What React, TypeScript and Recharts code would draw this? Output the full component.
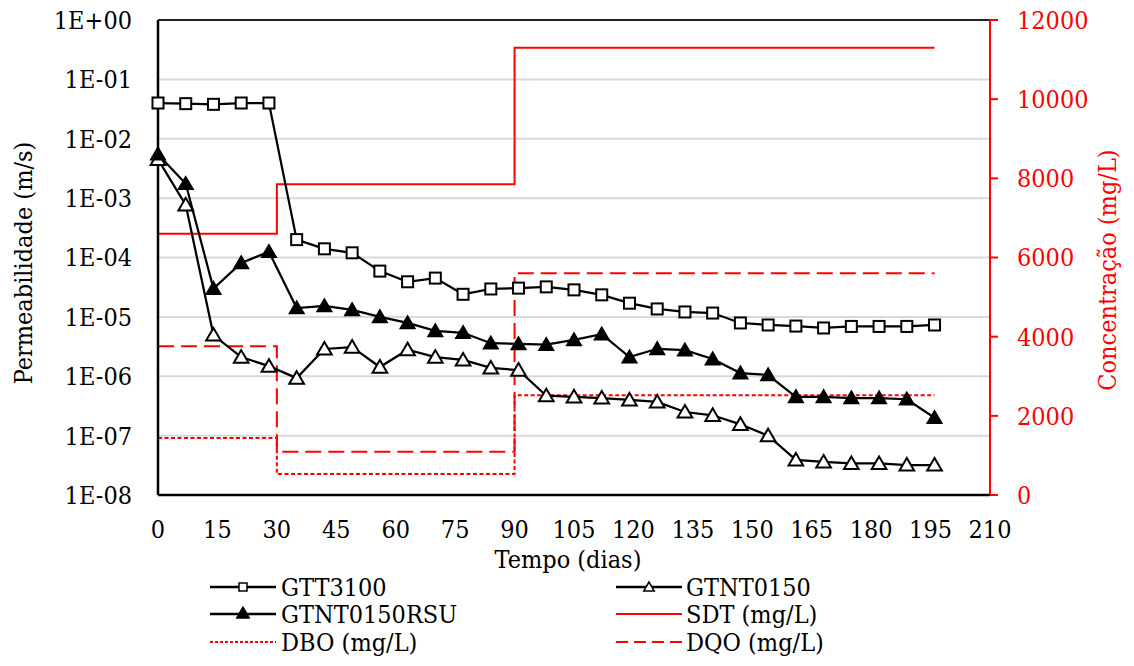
import React from "react";
import {
  ComposedChart,
  Line,
  XAxis,
  YAxis,
  CartesianGrid,
  ReferenceLine,
} from "recharts";

const days = [0, 7, 14, 21, 28, 35, 42, 49, 56, 63, 70, 77, 84, 91, 98, 105, 112, 119, 126, 133, 140, 147, 154, 161, 168, 175, 182, 189, 196];

const gtt3100 = [4.0e-2, 3.9e-2, 3.8e-2, 4.0e-2, 4.0e-2, 2.0e-4, 1.4e-4, 1.2e-4, 5.9e-5, 3.9e-5, 4.5e-5, 2.4e-5, 2.95e-5, 3.05e-5, 3.2e-5, 2.85e-5, 2.35e-5, 1.7e-5, 1.36e-5, 1.21e-5, 1.16e-5, 7.9e-6, 7.3e-6, 7.0e-6, 6.5e-6, 6.9e-6, 6.9e-6, 6.9e-6, 7.3e-6];

const gtnt0150 = [4.5e-3, 7.7e-4, 4.95e-6, 2.1e-6, 1.48e-6, 9.3e-7, 2.88e-6, 3.1e-6, 1.43e-6, 2.8e-6, 2.1e-6, 1.88e-6, 1.38e-6, 1.27e-6, 4.7e-7, 4.5e-7, 4.3e-7, 4.0e-7, 3.7e-7, 2.5e-7, 2.2e-7, 1.55e-7, 1.0e-7, 3.9e-8, 3.6e-8, 3.4e-8, 3.4e-8, 3.2e-8, 3.2e-8];

const gtnt0150rsu = [5.5e-3, 1.75e-3, 3.0e-5, 8.1e-5, 1.25e-4, 1.41e-5, 1.53e-5, 1.31e-5, 1.0e-5, 7.9e-6, 5.8e-6, 5.4e-6, 3.6e-6, 3.5e-6, 3.4e-6, 4.1e-6, 5.1e-6, 2.1e-6, 2.9e-6, 2.75e-6, 1.95e-6, 1.13e-6, 1.05e-6, 4.5e-7, 4.5e-7, 4.3e-7, 4.3e-7, 4.1e-7, 2.0e-7];

const stepDays = [0, 30, 90, 196];
const sdt = [6600, 7850, 11300, 11300];
const dqo = [3760, 1090, 5600, 5600];
const dbo = [1440, 530, 2520, 2520];

const xTicks = [0, 15, 30, 45, 60, 75, 90, 105, 120, 135, 150, 165, 180, 195, 210];
const leftTicks = [1e-8, 1e-7, 1e-6, 1e-5, 1e-4, 1e-3, 1e-2, 1e-1, 1];
const rightTicks = [0, 2000, 4000, 6000, 8000, 10000, 12000];

const permData = days.map((d, i) => ({
  day: d,
  gtt3100: gtt3100[i],
  gtnt0150: gtnt0150[i],
  gtnt0150rsu: gtnt0150rsu[i],
}));
const sdtData = stepDays.map((d, i) => ({ day: d, v: sdt[i] }));
const dqoData = stepDays.map((d, i) => ({ day: d, v: dqo[i] }));
const dboData = stepDays.map((d, i) => ({ day: d, v: dbo[i] }));

const FONT = "'DejaVu Serif Condensed', 'DejaVu Serif', serif";
const FS = 25;
const RED = "#FF0000";
const textStyle = { fontStretch: "condensed" as const };

const fmtLog = (v: number) => {
  const e = Math.round(Math.log10(v));
  return "1E" + (e < 0 ? "-" : "+") + String(Math.abs(e)).padStart(2, "0");
};

const SquareDot = (props: any) => {
  const { cx, cy, index } = props;
  if (cx == null || cy == null) return <g key={`sq-${index}`} />;
  return (
    <rect key={`sq-${index}`} x={cx - 5.5} y={cy - 5.5} width={11} height={11} fill="#fff" stroke="#000" strokeWidth={2} />
  );
};

const triPoints = (cx: number, cy: number, s: number) =>
  `${cx},${cy - s * 1.0} ${cx - s * 1.05},${cy + s * 0.8} ${cx + s * 1.05},${cy + s * 0.8}`;

const HollowTri = (props: any) => {
  const { cx, cy, index } = props;
  if (cx == null || cy == null) return <g key={`ht-${index}`} />;
  return <polygon key={`ht-${index}`} points={triPoints(cx, cy, 7)} fill="#fff" stroke="#000" strokeWidth={2} strokeLinejoin="miter" />;
};

const FilledTri = (props: any) => {
  const { cx, cy, index } = props;
  if (cx == null || cy == null) return <g key={`ft-${index}`} />;
  return <polygon key={`ft-${index}`} points={triPoints(cx, cy, 7)} fill="#000" stroke="#000" strokeWidth={1.5} />;
};

const legendItems = [
  { label: "GTT3100", col: 0, row: 0, kind: "square" },
  { label: "GTNT0150", col: 1, row: 0, kind: "hollow" },
  { label: "GTNT0150RSU", col: 0, row: 1, kind: "filled" },
  { label: "SDT (mg/L)", col: 1, row: 1, kind: "sdt" },
  { label: "DBO (mg/L)", col: 0, row: 2, kind: "dbo" },
  { label: "DQO (mg/L)", col: 1, row: 2, kind: "dqo" },
];

const LegendSymbol = ({ kind, x1, x2, y }: { kind: string; x1: number; x2: number; y: number }) => {
  const cx = (x1 + x2) / 2;
  if (kind === "square" || kind === "hollow" || kind === "filled") {
    return (
      <g>
        <line x1={x1} x2={x2} y1={y} y2={y} stroke="#000" strokeWidth={2.5} />
        {kind === "square" && <rect x={cx - 4} y={y - 4} width={8} height={8} fill="#fff" stroke="#000" strokeWidth={1.5} />}
        {kind === "hollow" && <polygon points={triPoints(cx, y, 5)} fill="#fff" stroke="#000" strokeWidth={1.5} />}
        {kind === "filled" && <polygon points={triPoints(cx, y - 1, 6.5)} fill="#000" stroke="#000" strokeWidth={1} />}
      </g>
    );
  }
  const dash = kind === "dbo" ? "3 2" : kind === "dqo" ? "12 6" : undefined;
  return <line x1={x1} x2={x2} y1={y} y2={y} stroke={RED} strokeWidth={2} strokeDasharray={dash} />;
};

export default function App() {
  const colLineX = [210, 616];
  const colTextX = [281, 686];
  const rowY = [587, 614, 642];
  const tickProps = { fontSize: FS, fontFamily: FONT, style: textStyle };
  return (
    <div style={{ position: "absolute", left: 0, top: 0, width: 1134, height: 666, background: "#fff", fontFamily: FONT }}>
      <ComposedChart
        width={1134}
        height={666}
        margin={{ top: 20, right: 0, bottom: 111, left: 0 }}
        style={{ fontFamily: FONT }}
      >
        <CartesianGrid yAxisId="left" horizontal vertical={false} stroke="#d9d9d9" strokeWidth={2} />
        <XAxis
          dataKey="day"
          type="number"
          domain={[0, 210]}
          ticks={xTicks}
          allowDecimals={false}
          interval={0}
          height={60}
          tickSize={0}
          tickMargin={25}
          tickLine={false}
          axisLine={{ stroke: "#000", strokeWidth: 2.5 }}
          tick={{ ...tickProps, fill: "#000" }}
        />
        <YAxis
          yAxisId="left"
          orientation="left"
          scale="log"
          domain={[1e-8, 1]}
          ticks={leftTicks}
          allowDataOverflow
          width={158}
          tickSize={0}
          tickMargin={26}
          tickLine={false}
          tickFormatter={fmtLog}
          interval={0}
          axisLine={{ stroke: "#000", strokeWidth: 2.5 }}
          tick={{ ...tickProps, fill: "#000" }}
        />
        <YAxis
          yAxisId="right"
          orientation="right"
          domain={[0, 12000]}
          ticks={rightTicks}
          width={144}
          tickSize={8}
          tickMargin={19}
          interval={0}
          tickLine={{ stroke: RED, strokeWidth: 2 }}
          axisLine={{ stroke: RED, strokeWidth: 2 }}
          tick={{ ...tickProps, fill: RED, textAnchor: "start" }}
        />
        <ReferenceLine yAxisId="left" y={1} stroke="#222" strokeWidth={2} />
        <Line
          yAxisId="right"
          data={sdtData}
          dataKey="v"
          type="stepAfter"
          stroke={RED}
          strokeWidth={2}
          dot={false}
          activeDot={false}
          isAnimationActive={false}
        />
        <Line
          yAxisId="right"
          data={dqoData}
          dataKey="v"
          type="stepAfter"
          stroke={RED}
          strokeWidth={2}
          strokeDasharray="16 7"
          dot={false}
          activeDot={false}
          isAnimationActive={false}
        />
        <Line
          yAxisId="right"
          data={dboData}
          dataKey="v"
          type="stepAfter"
          stroke={RED}
          strokeWidth={2}
          strokeDasharray="4 2.5"
          dot={false}
          activeDot={false}
          isAnimationActive={false}
        />
        <Line
          yAxisId="left"
          data={permData}
          dataKey="gtt3100"
          type="linear"
          stroke="#000"
          strokeWidth={2.25}
          dot={SquareDot}
          activeDot={false}
          isAnimationActive={false}
        />
        <Line
          yAxisId="left"
          data={permData}
          dataKey="gtnt0150"
          type="linear"
          stroke="#000"
          strokeWidth={2.25}
          dot={HollowTri}
          activeDot={false}
          isAnimationActive={false}
        />
        <Line
          yAxisId="left"
          data={permData}
          dataKey="gtnt0150rsu"
          type="linear"
          stroke="#000"
          strokeWidth={2.25}
          dot={FilledTri}
          activeDot={false}
          isAnimationActive={false}
        />
      </ComposedChart>
      <svg
        width={1134}
        height={666}
        style={{ position: "absolute", left: 0, top: 0, pointerEvents: "none", fontFamily: FONT, fontStretch: "condensed" }}
      >
        <text x={568} y={568} textAnchor="middle" fontSize={FS} fill="#000" fontFamily={FONT}>
          Tempo (dias)
        </text>
        <text x={32} y={263} textAnchor="middle" fontSize={FS} fill="#000" fontFamily={FONT} transform="rotate(-90 32 263)">
          Permeabilidade (m/s)
        </text>
        <text x={1116} y={270} textAnchor="middle" fontSize={FS} fill={RED} fontFamily={FONT} transform="rotate(-90 1116 270)">
          Concentração (mg/L)
        </text>
        {legendItems.map((it) => (
          <g key={it.label}>
            <LegendSymbol kind={it.kind} x1={colLineX[it.col]} x2={colLineX[it.col] + 66} y={rowY[it.row]} />
            <text x={colTextX[it.col]} y={rowY[it.row] + 9} fontSize={FS} fill="#000" fontFamily={FONT}>
              {it.label}
            </text>
          </g>
        ))}
      </svg>
    </div>
  );
}
